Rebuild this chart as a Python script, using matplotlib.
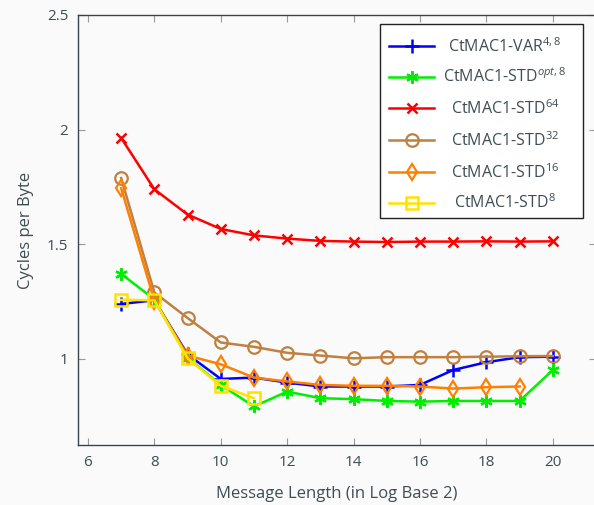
import matplotlib
matplotlib.use("Agg")
import matplotlib.pyplot as plt
from matplotlib.lines import Line2D
from matplotlib.patches import Rectangle

plt.rcParams['font.family'] = ['Open Sans', 'DejaVu Sans']
plt.rcParams['mathtext.fontset'] = 'custom'
plt.rcParams['mathtext.rm'] = 'Open Sans'
plt.rcParams['mathtext.it'] = 'Open Sans:italic'

x_all = [7, 8, 9, 10, 11, 12, 13, 14, 15, 16, 17, 18, 19, 20]

var48 = [1.24, 1.256, 1.02, 0.913, 0.919, 0.897, 0.880, 0.880, 0.880, 0.887, 0.952, 0.986, 1.008, 1.010]
std_opt8 = [1.371, 1.26, 1.005, 0.887, 0.793, 0.858, 0.829, 0.825, 0.817, 0.814, 0.817, 0.817, 0.817, 0.952]
std64 = [1.964, 1.740, 1.630, 1.567, 1.539, 1.525, 1.515, 1.512, 1.510, 1.512, 1.512, 1.513, 1.512, 1.513]
std32 = [1.789, 1.29, 1.179, 1.072, 1.053, 1.027, 1.015, 1.003, 1.008, 1.008, 1.008, 1.010, 1.012, 1.013]
std16 = [1.745, 1.255, 1.015, 0.977, 0.919, 0.902, 0.887, 0.883, 0.883, 0.880, 0.871, 0.877, 0.880]
std8 = [1.258, 1.256, 1.003, 0.883, 0.829]

labels = ['CtMAC1-VAR$^{4,8}$', 'CtMAC1-STD$^{\\mathit{opt},8}$', 'CtMAC1-STD$^{64}$',
          'CtMAC1-STD$^{32}$', 'CtMAC1-STD$^{16}$', 'CtMAC1-STD$^{8}$']

TXT = '#3e4d52'
BG = '#fafafa'
W, H = 594, 505

fig = plt.figure(figsize=(W/100, H/100), dpi=100, facecolor=BG)
ax = fig.add_axes([78/W, 1-445/H, (596-78)/W, (445-15)/H], facecolor=BG)

lw = 1.8
ASTER = (6, 2, 0)
series = [
    (var48, '#0000ff', '+', 10, 'none', 1.8),
    (std_opt8, '#00ee00', ASTER, 9, 'none', 1.6),
    (std64, '#ff0000', 'x', 7, 'none', 1.8),
    (std32, '#bf8040', 'o', 9, 'none', 1.6),
    (std16, '#ff8000', 'd', 8, 'none', 1.6),
    (std8, '#ffe200', 's', 9, 'none', 1.8),
]
for (vals, c, m, ms, mfc, mew), lab in zip(series, labels):
    xs = x_all[:len(vals)]
    ax.plot(xs, vals, color=c, lw=lw, marker=m, markersize=ms,
            markerfacecolor=mfc, markeredgecolor=c, markeredgewidth=mew, label=lab)

ax.set_xlim(5.7, 21.3)
ax.set_ylim(0.625, 2.5)
ax.set_xticks([6, 8, 10, 12, 14, 16, 18, 20])
ax.set_yticks([1, 1.5, 2, 2.5])
ax.set_yticklabels(['1', '1.5', '2', '2.5'])
ax.tick_params(direction='in', length=5, width=0.8, color='#999999',
               top=True, right=True, labelsize=11, labelcolor=TXT, pad=7)
for s in ax.spines.values():
    s.set_color('#3a4448')
    s.set_linewidth(1.0)

ax.set_xlabel('Message Length (in Log Base 2)', fontsize=12, color=TXT, labelpad=12)
ax.set_ylabel('Cycles per Byte', fontsize=12, color=TXT, labelpad=9)

# manual legend (pgfplots style, centred labels)
def fx(px):
    return px / W

def fy(py):
    return 1 - py / H

fig.patches.append(Rectangle((fx(380), fy(218)), fx(583) - fx(380), fy(24) - fy(218),
                             transform=fig.transFigure, facecolor='white',
                             edgecolor='#222222', linewidth=1.0, zorder=5))
row_y = [46, 77, 108, 140, 172, 203]
for (vals, c, m, ms, mfc, mew), lab, ry in zip(series, labels, row_y):
    ln = Line2D([fx(389), fx(411.5), fx(434)], [fy(ry)] * 3, transform=fig.transFigure,
                color=c, lw=lw, marker=m, markersize=ms, markevery=[1],
                markerfacecolor=mfc, markeredgecolor=c, markeredgewidth=mew, zorder=6)
    fig.lines.append(ln)
    fig.text(fx(505), fy(ry + 5.5), lab, ha='center', va='baseline', fontsize=11.5,
             color=TXT, zorder=7)

fig.savefig('out.png', dpi=100, facecolor=BG)
